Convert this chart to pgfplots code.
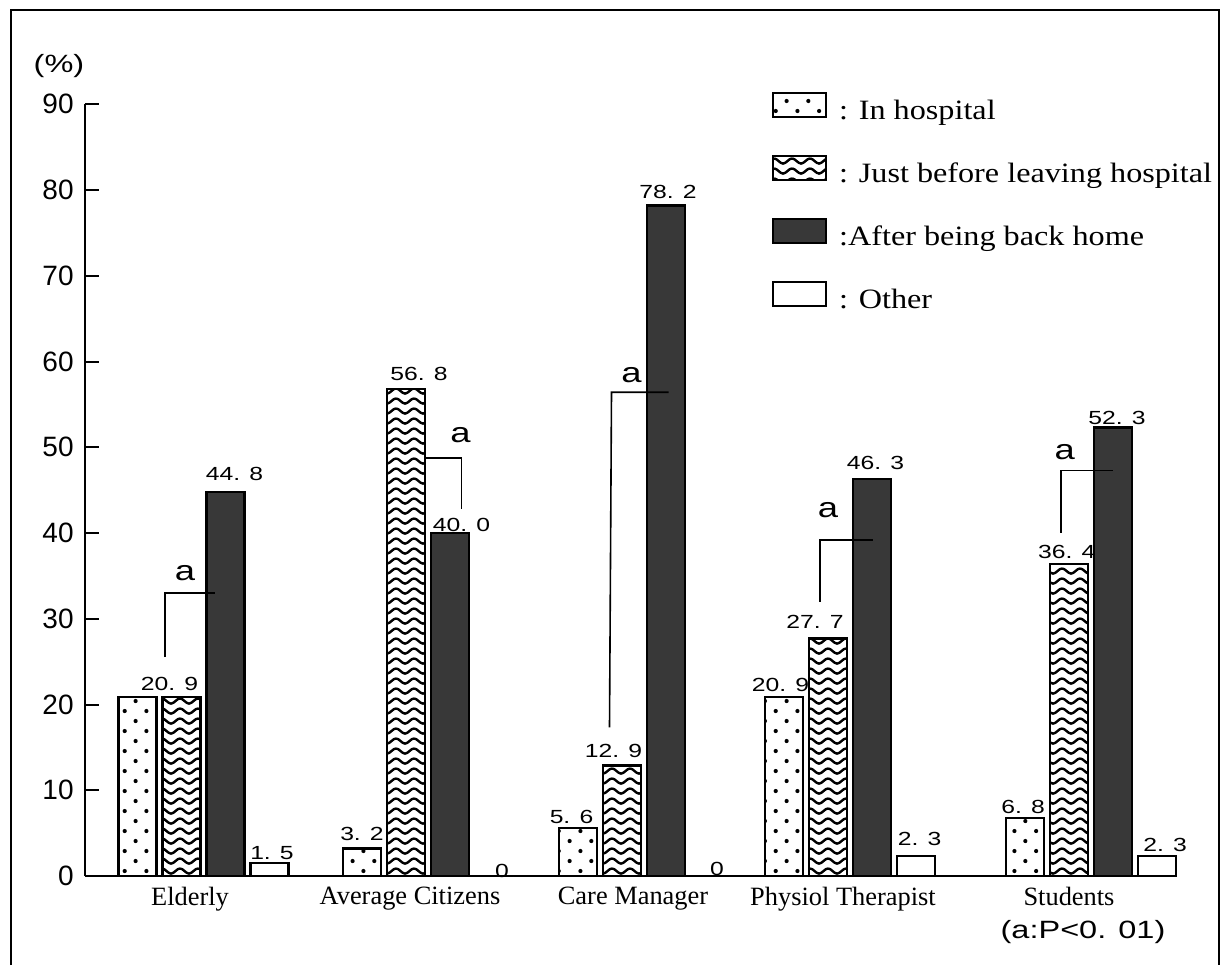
\documentclass[border=0pt]{standalone}
\usepackage{fontspec}
\setmainfont{Liberation Serif}
\newfontfamily\tickf{Liberation Sans}
\newfontfamily\lblf{Liberation Sans}[FakeStretch=1.3]
\newfontfamily\legf{Liberation Serif}[FakeStretch=1.15]
\usepackage{pgfplots}
\usepackage{pgfplotstable}
\pgfplotsset{compat=1.18}
\usetikzlibrary{patterns}

% sparse staggered dots (In hospital)
\pgfdeclarepatternformonly{sparsedots}{\pgfqpoint{-1bp}{-1bp}}{\pgfqpoint{11.85bp}{11bp}}{\pgfqpoint{10.85bp}{10bp}}{%
  \pgfpathcircle{\pgfqpoint{2.7bp}{2.5bp}}{1.05bp}%
  \pgfpathcircle{\pgfqpoint{8.1bp}{7.5bp}}{1.05bp}%
  \pgfusepath{fill}}
% wavy lines (Just before leaving hospital)
\pgfdeclarepatternformonly{waves}{\pgfqpoint{-0.5bp}{0bp}}{\pgfqpoint{9.5bp}{5bp}}{\pgfqpoint{9bp}{5bp}}{%
  \pgfsetlinewidth{1.2bp}%
  \pgfpathmoveto{\pgfqpoint{0bp}{3.8bp}}%
  \pgfpathcurveto{\pgfqpoint{1.5bp}{3.8bp}}{\pgfqpoint{3bp}{1.2bp}}{\pgfqpoint{4.5bp}{1.2bp}}%
  \pgfpathcurveto{\pgfqpoint{6bp}{1.2bp}}{\pgfqpoint{7.5bp}{3.8bp}}{\pgfqpoint{9bp}{3.8bp}}%
  \pgfusepath{stroke}}
% fine dots (After being back home), used in white on dark
\pgfdeclarepatternformonly{finedots}{\pgfqpoint{0bp}{0bp}}{\pgfqpoint{3bp}{3bp}}{\pgfqpoint{3bp}{3bp}}{%
  \pgfpathcircle{\pgfqpoint{0.75bp}{0.75bp}}{0.6bp}%
  \pgfpathcircle{\pgfqpoint{2.25bp}{2.25bp}}{0.6bp}%
  \pgfusepath{fill}}

% x = group position (1 unit = 1 px of the reference)
\pgfplotstableread{
x       hosp  before  home  other
203.5   20.9  20.9    44.8  1.5
428     3.2   56.8    40.0  0
644     5.6   12.9    78.2  0
850     20.9  27.7    46.3  2.3
1091    6.8   36.4    52.3  2.3
}\datatable

\newcommand\vl[3]{\node[font=\lblf\fontsize{9.5bp}{10bp}\selectfont, inner sep=0pt] at (axis cs:#1,#2) {#3};}
\newcommand\al[3]{\node[font=\lblf\fontsize{14bp}{16bp}\selectfont, inner sep=0pt] at (axis cs:#1,#2) {#3};}

\begin{document}
\begin{tikzpicture}
\begin{axis}[
    x=0.5bp, y=4.2875bp,
    xmin=85, xmax=1172, ymin=0, ymax=90,
    axis x line*=bottom, axis y line*=left,
    axis line style={line width=1bp},
    ybar=3bp, bar width=38,
    ytick={0,10,...,90},
    tick align=inside, major tick length=7bp,
    ytick style={line width=1bp, black},
    xtick={190,410,633,843,1069},
    xticklabels={Elderly,Average Citizens,Care Manager,Physiol Therapist,Students},
    xtick style={draw=none},
    xticklabel style={font=\fontsize{13.2bp}{15bp}\selectfont, anchor=north, inner sep=0pt, yshift=-5.5bp},
    yticklabel style={font=\tickf\fontsize{14bp}{16bp}\selectfont, anchor=east, inner sep=0pt, xshift=-5.5bp},
    /pgf/number format/assume math mode=true,
    clip=false,
    every axis plot/.append style={draw=black, line width=1.1bp,
        legend image code/.code={\draw[##1] (0bp,-2.5bp) rectangle (26.5bp,9.5bp);}},
    legend style={at={(0.632,1.0159)}, anchor=north west, draw=none, fill=none,
        inner sep=0pt, outer sep=0pt, row sep=15bp, column sep=6bp,
        nodes={inner sep=0pt, text height=10bp, text depth=3bp},
        font=\legf\fontsize{14bp}{16bp}\selectfont},
    legend cell align=left,
]
\addplot[pattern=sparsedots] table[x=x, y=hosp] \datatable;
\addlegendentry{: In hospital}
\addplot[pattern=waves] table[x=x, y=before] \datatable;
\addlegendentry{: Just before leaving hospital}
\addplot[fill=black!78, postaction={pattern=finedots, pattern color=white},
    postaction={draw=black, line width=1.1bp}] table[x=x, y=home] \datatable;
\addlegendentry{:After being back home}
\addplot[fill=white] table[x=x, y=other] \datatable;
\addlegendentry{: Other}

% value labels
\vl{169.5}{22.45}{20. 9}
\vl{234.5}{46.94}{44. 8}
\vl{272}{2.68}{1. 5}
\vl{362}{4.90}{3. 2}
\vl{419}{58.59}{56. 8}
\vl{461.5}{40.93}{40. 0}
\vl{502}{0.58}{0}
\vl{571.5}{6.88}{5. 6}
\vl{613.5}{14.58}{12. 9}
\vl{668}{79.77}{78. 2}
\vl{717}{0.87}{0}
\vl{780.5}{22.27}{20. 9}
\vl{815}{29.68}{27. 7}
\vl{875.5}{48.16}{46. 3}
\vl{919.5}{4.37}{2. 3}
\vl{1023}{8.05}{6. 8}
\vl{1066.7}{37.82}{36. 4}
\vl{1117}{53.47}{52. 3}
\vl{1165}{3.62}{2. 3}

% significance brackets
\draw[line width=0.8bp] (axis cs:165,25.54) -- (axis cs:165,33.0) -- (axis cs:215,33.0);
\al{185}{35.33}{a}
\draw[line width=0.8bp] (axis cs:425,48.75) -- (axis cs:461.5,48.75) -- (axis cs:461.5,42.83);
\al{460.6}{51.43}{a}
\draw[line width=0.8bp] (axis cs:609.5,17.33) -- (axis cs:611.5,56.41) -- (axis cs:668.7,56.41);
\al{631.5}{58.43}{a}
\draw[line width=0.8bp] (axis cs:820,31.99) -- (axis cs:820,39.18) -- (axis cs:873,39.18);
\al{828}{42.62}{a}
\draw[line width=0.8bp] (axis cs:1061,40.03) -- (axis cs:1061,47.27) -- (axis cs:1113,47.27);
\al{1064.7}{49.45}{a}

\node[font=\lblf\fontsize{12.5bp}{14bp}\selectfont, inner sep=0pt] at (axis cs:59,94.46) {(\%)};
\node[font=\lblf\fontsize{12.5bp}{14bp}\selectfont, inner sep=0pt] at (axis cs:1083,-6.53) {(a:P<0. 01)};

% outer frame and page size
\draw[line width=1bp] (axis cs:11,-10.379) -- (axis cs:11,100.99) -- (axis cs:1219,100.99) -- (axis cs:1219,-10.379);
\path (axis cs:0,-10.379) rectangle (axis cs:1221,102.157);
\end{axis}
\end{tikzpicture}
\end{document}
